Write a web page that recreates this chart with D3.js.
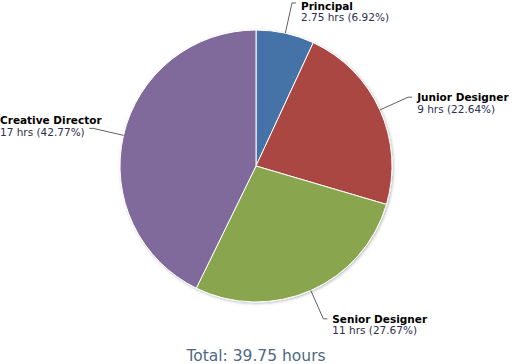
<!DOCTYPE html>
<html>
<head>
<meta charset="utf-8">
<script src="https://cdn.jsdelivr.net/npm/d3@7"></script>
<style>
  body { margin: 0; background: #fff; }
  svg { display: block; font-family: "DejaVu Sans", Verdana, sans-serif; }
</style>
</head>
<body>
<svg width="515" height="364"></svg>
<script>
"use strict"

// chart data
let roles = ["Principal", "Junior Designer", "Senior Designer", "Creative Director"]
let hours = [2.75, 9, 11, 17]
let colors = ["#4572A7", "#AA4643", "#89A54E", "#80699B"]

let svg = d3.select("svg"),
    width = +svg.attr("width"),
    cx = 256, cy = 166, radius = 136

let total = d3.sum(hours)
let slices = roles.map((r, i) => ({role: r, hrs: hours[i], color: colors[i]}))

let pie = d3.pie().sort(null).value(d => d.hrs)
let arc = d3.arc().innerRadius(0).outerRadius(radius)
let arcs = pie(slices)

// soft shadow round the pie
let defs = svg.append("defs")
let filter = defs.append("filter").attr("id", "shadow")
    .attr("x", "-20%").attr("y", "-20%").attr("width", "140%").attr("height", "140%")
filter.append("feDropShadow")
    .attr("dx", 1).attr("dy", 1)
    .attr("stdDeviation", 1.6)
    .attr("flood-color", "#000")
    .attr("flood-opacity", 0.28)

let g = svg.append("g")
    .attr("transform", "translate(" + cx + "," + cy + ")")

g.append("g").attr("filter", "url(#shadow)")
    .selectAll("path")
    .data(arcs)
    .enter().append("path")
    .attr("d", arc)
    .attr("fill", d => d.data.color)
    .attr("stroke", "#fff")
    .attr("stroke-width", 1)
    .attr("stroke-linejoin", "round")

// labels with connectors
let labelOut = 31
let fmtHrs = v => String(v) + " hrs (" + (v / total * 100).toFixed(2) + "%)"
// small nudges so labels stay inside the page
let labelShift = {"Creative Director": -8, "Principal": 3}

let labels = svg.append("g")
arcs.forEach(d => {
    let mid = (d.startAngle + d.endAngle) / 2
    let sx = Math.sin(mid), sy = -Math.cos(mid)
    let x0 = cx + radius * sx, y0 = cy + radius * sy
    let x1 = cx + (radius + labelOut) * sx, y1 = cy + (radius + labelOut) * sy
    let right = sx >= 0
    let x2 = x1 + (right ? 4 : -4)

    labels.append("path")
        .attr("d", "M" + x0 + "," + y0 + "L" + x1 + "," + y1 + "L" + x2 + "," + y1)
        .attr("fill", "none")
        .attr("stroke", "#606060")
        .attr("stroke-width", 1)

    let t = labels.append("text").attr("font-size", "10.5px")
    let dy = labelShift[d.data.role] || 0
    t.append("tspan").attr("font-weight", "bold").attr("fill", "#000")
        .text(d.data.role)
    t.append("tspan").attr("fill", "#2e2e4e")
        .text(fmtHrs(d.data.hrs))
    let tsp = t.selectAll("tspan")
    let w = d3.max(tsp.nodes(), n => n.getComputedTextLength())
    let tx = right ? x2 + 5 : Math.max(0, x2 - 5 - w)
    tsp.attr("x", tx)
    tsp.filter((_, i) => i === 0).attr("y", y1 + 4 + dy)
    tsp.filter((_, i) => i === 1).attr("y", y1 + 15.5 + dy)
})

svg.append("text")
    .attr("x", cx)
    .attr("y", 361)
    .attr("text-anchor", "middle")
    .attr("font-size", "15.5px")
    .attr("fill", "#4e6882")
    .text("Total: " + total + " hours")
</script>
</body>
</html>
